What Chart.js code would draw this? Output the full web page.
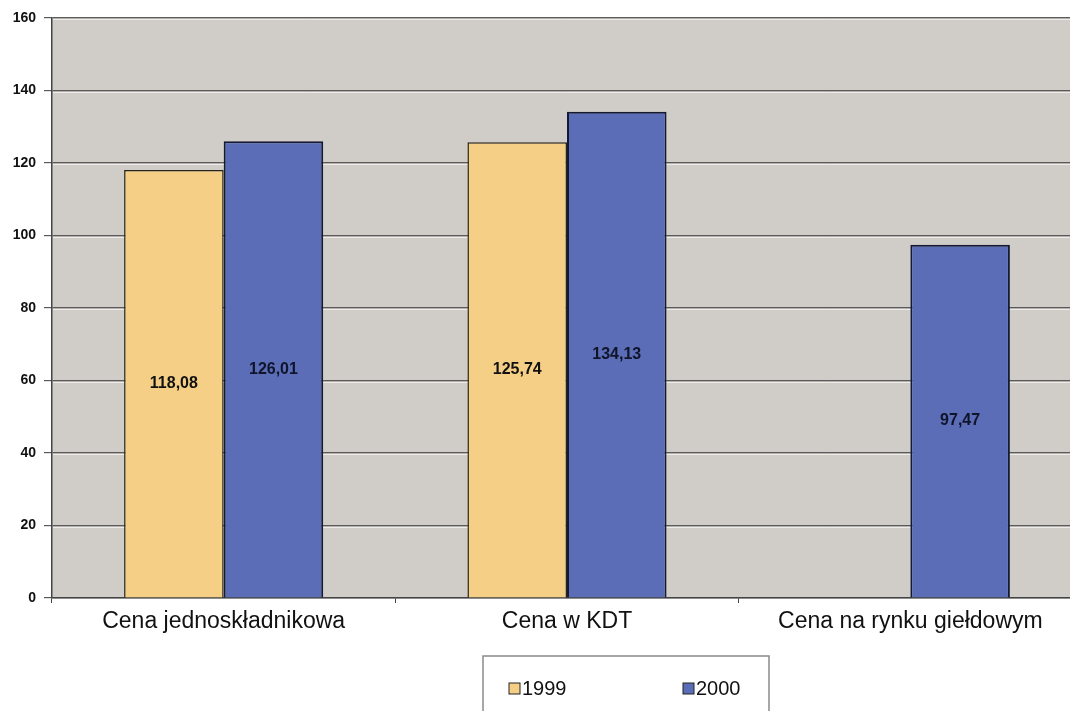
<!DOCTYPE html>
<html>
<head>
<meta charset="utf-8">
<script src="https://cdn.jsdelivr.net/npm/chart.js@4.4.0/dist/chart.umd.min.js"></script>
<style>
    html, body { margin: 0; padding: 0; background: #ffffff; overflow: hidden; }
    #wrap { width: 1070px; height: 711px; overflow: hidden; position: relative; }
    #box { width: 1082px; height: 711px; position: absolute; left: 0; top: 0; }
</style>
</head>
<body>
<div id="wrap"><div id="box"><canvas id="price-chart"></canvas></div></div>
<script>
// Categories and series
const categories = ['Cena jednoskładnikowa', 'Cena w KDT', 'Cena na rynku giełdowym'];
const values1999 = [118.08, 125.74, null];
const values2000 = [126.01, 134.13, 97.47];
const seriesLabels = ['1999', '2000'];
const yTicks = [0, 20, 40, 60, 80, 100, 120, 140, 160];

const FONT = '"Liberation Sans", Arial, sans-serif';

const formatValue = v => v.toFixed(2).replace('.', ',');

// Gray plot background
const plotBackground = {
    id: 'plotBackground',
    beforeDraw(chart) {
        const { ctx, chartArea: a } = chart;
        ctx.save();
        ctx.fillStyle = '#d0cdc8';
        ctx.fillRect(a.left, a.top, a.right - a.left, a.bottom - a.top);
        ctx.restore();
    }
};

// Light line under each gridline, drawn before the bars
const gridHighlight = {
    id: 'gridHighlight',
    beforeDatasetsDraw(chart) {
        const { ctx, chartArea: a, scales: { y } } = chart;
        ctx.save();
        ctx.strokeStyle = '#eeece8';
        ctx.lineWidth = 1;
        yTicks.forEach(v => {
            if (v === 0) return;
            const py = Math.round(y.getPixelForValue(v)) + 1.5;
            ctx.beginPath();
            ctx.moveTo(a.left + 1, py);
            ctx.lineTo(a.right, py);
            ctx.stroke();
        });
        ctx.restore();
    }
};

// Value labels in the middle of each bar
const barValues = {
    id: 'barValues',
    afterDatasetsDraw(chart) {
        const { ctx } = chart;
        ctx.save();
        ctx.font = 'bold 16px ' + FONT;
        ctx.textAlign = 'center';
        ctx.textBaseline = 'middle';
        chart.data.datasets.forEach((ds, i) => {
            chart.getDatasetMeta(i).data.forEach((bar, j) => {
                const v = ds.data[j];
                if (v == null) return;
                ctx.fillStyle = i === 0 ? '#111111' : '#10142a';
                ctx.fillText(formatValue(v), bar.x, (bar.y + bar.base) / 2);
            });
        });
        ctx.restore();
    }
};

// Boxed legend under the category labels
const boxedLegend = {
    id: 'boxedLegend',
    afterDraw(chart) {
        const { ctx } = chart;
        const left = 483, top = 656, right = 769, bottom = 720;
        ctx.save();
        ctx.fillStyle = '#ffffff';
        ctx.fillRect(left, top, right - left, bottom - top);
        ctx.strokeStyle = '#8a8a8a';
        ctx.lineWidth = 1.5;
        ctx.strokeRect(left, top, right - left, bottom - top);
        const xs = [509, 683];
        ctx.font = '20px ' + FONT;
        ctx.textBaseline = 'middle';
        chart.data.datasets.forEach((ds, i) => {
            const x = xs[i], y = 689;
            ctx.fillStyle = ds.backgroundColor;
            ctx.fillRect(x, y - 6, 11, 11);
            ctx.strokeStyle = '#222222';
            ctx.lineWidth = 1;
            ctx.strokeRect(x, y - 6, 11, 11);
            ctx.fillStyle = '#111111';
            ctx.fillText(ds.label, x + 13, y);
        });
        ctx.restore();
    }
};

const ctx = document.getElementById('price-chart').getContext('2d');
const priceChart = new Chart(ctx, {
    type: 'bar',
    data: {
        labels: categories,
        datasets: [{
            label: seriesLabels[0],
            data: values1999,
            backgroundColor: '#f5cf86',
            borderColor: '#2a2418',
            borderWidth: 1.5
        }, {
            label: seriesLabels[1],
            data: values2000,
            backgroundColor: '#5a6db6',
            borderColor: '#141a33',
            borderWidth: 2
        }]
    },
    options: {
        responsive: true,
        maintainAspectRatio: false,
        animation: false,
        devicePixelRatio: 1,
        categoryPercentage: 0.58,
        barPercentage: 1,
        layout: {
            padding: { top: 18, left: 0, right: 0, bottom: 63 }
        },
        plugins: {
            legend: { display: false },
            tooltip: { enabled: false }
        },
        scales: {
            x: {
                grid: {
                    offset: true,
                    drawOnChartArea: false,
                    color: '#444444',
                    tickLength: 5
                },
                border: { color: '#444444', width: 1.5 },
                ticks: {
                    color: '#111111',
                    padding: 5,
                    font: { family: FONT, size: 23 }
                },
                afterFit(scale) { scale.height = 50; }
            },
            y: {
                min: 0,
                max: 160,
                afterBuildTicks(scale) {
                    scale.ticks = yTicks.map(v => ({ value: v }));
                },
                grid: {
                    color: '#5a5a5a',
                    lineWidth: 1.2,
                    tickLength: 8
                },
                border: { color: '#444444', width: 1.5 },
                ticks: {
                    color: '#111111',
                    padding: 8,
                    font: { family: FONT, size: 14, weight: 'bold' }
                },
                afterFit(scale) { scale.width = 52; }
            }
        }
    },
    plugins: [plotBackground, gridHighlight, barValues, boxedLegend]
});
</script>
</body>
</html>
